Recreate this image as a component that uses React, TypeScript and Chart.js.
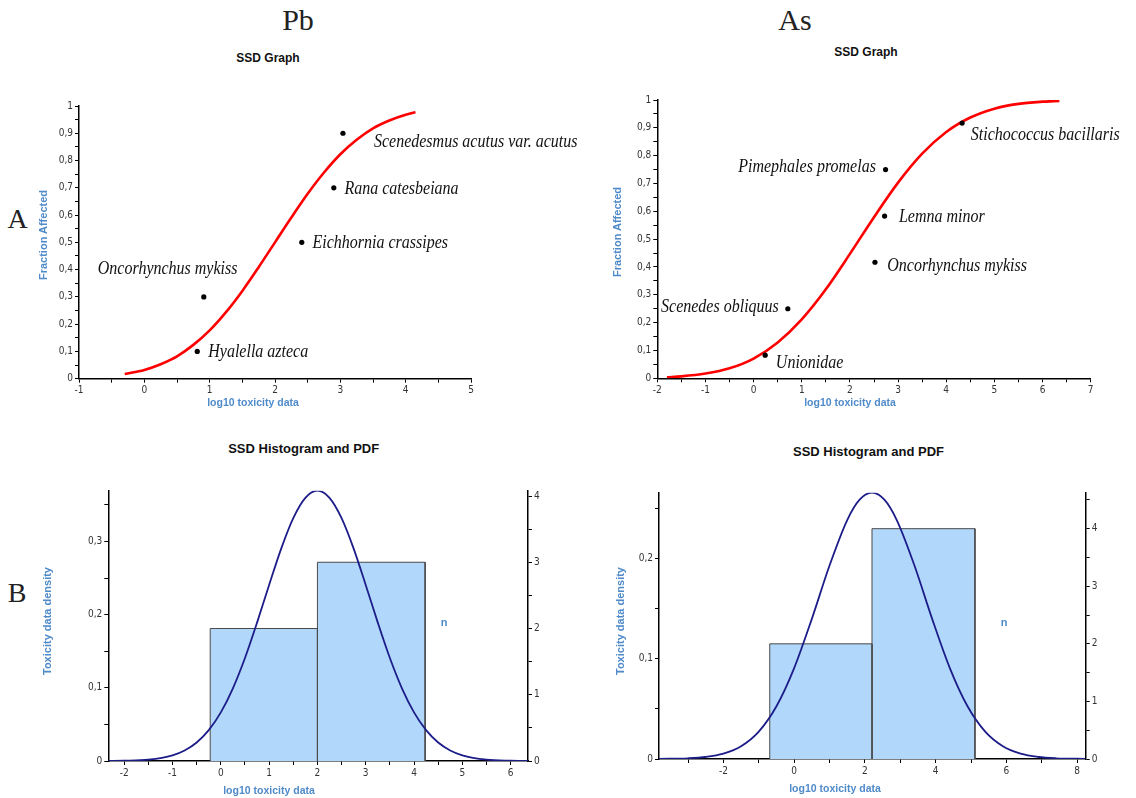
import React, { useEffect, useRef } from 'react';
import { Chart, registerables } from 'chart.js';

Chart.register(...registerables);

// ---------------- Data ----------------
// Pb – SSD graph (species sensitivity)
const pbSpecies = ['Hyalella azteca', 'Oncorhynchus mykiss', 'Eichhornia crassipes', 'Rana catesbeiana', 'Scenedesmus acutus var. acutus'];
const pbLogTox = [0.81, 0.91, 2.41, 2.9, 3.04];
const pbFraction = [0.1, 0.3, 0.5, 0.7, 0.9];
const pbCdfX = [-0.3, 0, 0.25, 0.5, 0.75, 1, 1.25, 1.5, 1.75, 2, 2.25, 2.5, 2.75, 3, 3.25, 3.5, 3.75, 4, 4.15];
const pbCdfY = [0.017, 0.032, 0.053, 0.082, 0.124, 0.177, 0.244, 0.322, 0.409, 0.5, 0.591, 0.678, 0.756, 0.823, 0.876, 0.918, 0.947, 0.968, 0.977];

// As – SSD graph
const asSpecies = ['Unionidae', 'Scenedes obliquus', 'Oncorhynchus mykiss', 'Lemna minor', 'Pimephales promelas', 'Stichococcus bacillaris'];
const asLogTox = [0.24, 0.71, 2.52, 2.72, 2.74, 4.33];
const asFraction = [0.083, 0.25, 0.417, 0.583, 0.75, 0.917];
const asCdfX = [-1.8, -1.5, -1, -0.5, 0, 0.5, 1, 1.5, 2, 2.5, 3, 3.5, 4, 4.5, 5, 5.5, 6, 6.35];
const asCdfY = [0.004, 0.007, 0.017, 0.036, 0.071, 0.129, 0.212, 0.32, 0.447, 0.579, 0.703, 0.807, 0.885, 0.937, 0.969, 0.986, 0.994, 0.997];

// Pb – histogram and PDF
const pbBinEdges = [-0.22, 2.0, 4.23];
const pbBinCounts = [2, 3];
const pbPdfX = [-2.33, -2, -1.5, -1, -0.75, -0.5, -0.25, 0, 0.25, 0.5, 0.75, 1, 1.25, 1.5, 1.75, 2, 2.25, 2.5, 2.75, 3, 3.25, 3.5, 3.75, 4, 4.25, 4.5, 4.75, 5, 5.5, 6, 6.36];
const pbPdfY = [0.0001, 0.0004, 0.0019, 0.0078, 0.0144, 0.0253, 0.0422, 0.0665, 0.0994, 0.1408, 0.1891, 0.2406, 0.2903, 0.3319, 0.3596, 0.3694, 0.3596, 0.3319, 0.2903, 0.2406, 0.1891, 0.1408, 0.0994, 0.0665, 0.0422, 0.0253, 0.0144, 0.0078, 0.0019, 0.0004, 0.0001];

// As – histogram and PDF
const asBinEdges = [-0.69, 2.2, 5.11];
const asBinCounts = [2, 4];
const asPdfX = [-3.82, -3, -2.5, -2, -1.5, -1, -0.5, 0, 0.5, 1, 1.5, 1.85, 2.2, 2.55, 2.9, 3.4, 3.9, 4.4, 4.9, 5.4, 5.9, 6.4, 6.9, 7.4, 8.24];
const asPdfY = [0.0001, 0.0007, 0.002, 0.0053, 0.0127, 0.0273, 0.0526, 0.0907, 0.1399, 0.1931, 0.2385, 0.2588, 0.2658, 0.2588, 0.2385, 0.1931, 0.1399, 0.0907, 0.0526, 0.0273, 0.0127, 0.0053, 0.002, 0.0007, 0.0001];

// Tick labels
const pbCdfXTicks = [-1, 0, 1, 2, 3, 4, 5];
const asCdfXTicks = [-2, -1, 0, 1, 2, 3, 4, 5, 6, 7];
const fractionTicks = [0, 0.1, 0.2, 0.3, 0.4, 0.5, 0.6, 0.7, 0.8, 0.9, 1];
const pbHistXTicks = [-2, -1, 0, 1, 2, 3, 4, 5, 6];
const asHistXTicks = [-2, 0, 2, 4, 6, 8];
const pbDensityTicks = [0, 0.1, 0.2, 0.3];
const asDensityTicks = [0, 0.1, 0.2];
const countTicks = [0, 1, 2, 3, 4];

// ---------------- Styling ----------------
const BLUE = '#4f8ac9';
const TICK_FONT = "'Liberation Sans Narrow', 'DejaVu Sans Condensed', 'Liberation Sans', Arial, sans-serif";
const SANS = "'Liberation Sans', Arial, sans-serif";
const SERIF = "'Liberation Serif', 'DejaVu Serif', serif";

// label placement relative to each point: [dx, dy, align]
const pbLabelPlacement: [number, number, CanvasTextAlign][] = [
  [11, 1, 'left'],
  [-106, -27.4, 'left'],
  [10.7, 1.3, 'left'],
  [10.6, 1, 'left'],
  [31, 8.6, 'left'],
];
const asLabelPlacement: [number, number, CanvasTextAlign][] = [
  [10.7, 7.7, 'left'],
  [-9, -2, 'right'],
  [12.3, 3.7, 'left'],
  [14.3, 0.7, 'left'],
  [-9.7, -2, 'right'],
  [8.7, 11.7, 'left'],
];

const r6 = (v: number) => Math.round(v * 1e6) / 1e6;
const fmtPlain = (v: number) => String(r6(v));
const fmtComma = (v: number) => String(Math.round(v * 1000) / 1000).replace('.', ',');

function buildTicks(major: number[], min: number, max: number) {
  const s = major[1] - major[0];
  const set = new Set<number>();
  major.forEach((v) =>
    [v - s / 2, v, v + s / 2].forEach((t) => {
      const r = r6(t);
      if (r >= min - 1e-9 && r <= max + 1e-9) set.add(r);
    })
  );
  return Array.from(set).sort((a, b) => a - b);
}

function axis(kind: 'x' | 'y' | 'y2', min: number, max: number, major: number[], fmt: (v: number) => string, size: number) {
  const all = buildTicks(major, min, max);
  const majorSet = new Set(major.map(r6));
  return {
    type: 'linear',
    position: kind === 'x' ? 'bottom' : kind === 'y' ? 'left' : 'right',
    min,
    max,
    border: { display: true, color: '#000', width: 1.5 },
    grid: { display: true, drawOnChartArea: false, drawTicks: true, tickLength: 4, color: '#000', lineWidth: 1 },
    ticks: {
      autoSkip: false,
      maxRotation: 0,
      minRotation: 0,
      padding: 2,
      color: '#333',
      font: { family: TICK_FONT, size: 10 },
      callback: (v: number) => (majorSet.has(r6(v)) ? fmt(v) : ''),
    },
    afterBuildTicks: (s: any) => {
      s.ticks = all.map((v) => ({ value: v }));
    },
    afterFit: (s: any) => {
      if (kind === 'x') s.height = size;
      else s.width = size;
    },
  };
}

function labelPlugin(labels: string[], placement: [number, number, CanvasTextAlign][]) {
  return {
    id: 'speciesLabels',
    afterDatasetsDraw(chart: any) {
      const meta = chart.getDatasetMeta(0);
      const ctx = chart.ctx;
      ctx.save();
      ctx.font = `italic 16px ${SERIF}`;
      ctx.fillStyle = '#111';
      ctx.textBaseline = 'middle';
      meta.data.forEach((pt: any, i: number) => {
        const [dx, dy, align] = placement[i];
        ctx.save();
        ctx.textAlign = align;
        ctx.translate(pt.x + dx, pt.y + dy);
        ctx.scale(1, 1.14);
        ctx.fillText(labels[i], 0, 0);
        ctx.restore();
      });
      ctx.restore();
    },
  };
}

const baseOptions = (padding: any, scales: any) => ({
  responsive: false,
  animation: false,
  events: [],
  layout: { padding },
  plugins: { legend: { display: false }, title: { display: false }, tooltip: { enabled: false } },
  scales,
});

// area = [left, top, right, bottom] spaces around the plot inside the canvas
function cdfConfig(
  xs: number[], fr: number[], cx: number[], cy: number[], labels: string[],
  placement: [number, number, CanvasTextAlign][], xMin: number, xMax: number, xTicks: number[], area: number[]
) {
  const [l, t, r, b] = area;
  return {
    type: 'line',
    data: {
      datasets: [
        {
          label: 'species',
          data: xs.map((x, i) => ({ x, y: fr[i] })),
          showLine: false,
          pointRadius: 2.6,
          pointBackgroundColor: '#000',
          pointBorderWidth: 0,
          borderColor: '#000',
        },
        {
          label: 'fit',
          data: cx.map((x, i) => ({ x, y: cy[i] })),
          borderColor: '#ff0000',
          borderWidth: 2.6,
          pointRadius: 0,
          cubicInterpolationMode: 'monotone',
          fill: false,
        },
      ],
    },
    options: baseOptions({ left: 0, top: t, right: r, bottom: 0 }, {
      x: axis('x', xMin, xMax, xTicks, fmtPlain, b),
      y: axis('y', 0, 1, fractionTicks, fmtComma, l),
    }),
    plugins: [labelPlugin(labels, placement)],
  };
}

function histConfig(
  edges: number[], counts: number[], px: number[], py: number[], xMin: number, xMax: number, xTicks: number[],
  yMax: number, yTicks: number[], y2Max: number, area: number[]
) {
  const [l, t, r, b] = area;
  const bins = counts.map((c, i) => ({
    label: 'bin' + i,
    data: [
      { x: edges[i], y: 0 },
      { x: edges[i], y: c },
      { x: edges[i + 1], y: c },
      { x: edges[i + 1], y: 0 },
    ],
    yAxisID: 'y2',
    fill: 'origin',
    backgroundColor: '#b1d7fa',
    borderColor: '#4a4a4a',
    borderWidth: 1,
    pointRadius: 0,
    tension: 0,
  }));
  return {
    type: 'line',
    data: {
      datasets: [
        {
          label: 'pdf',
          data: px.map((x, i) => ({ x, y: py[i] })),
          yAxisID: 'y',
          borderColor: '#1d1d8a',
          borderWidth: 1.8,
          pointRadius: 0,
          cubicInterpolationMode: 'monotone',
          fill: false,
        },
        ...bins,
      ],
    },
    options: baseOptions({ left: 0, top: t, right: 0, bottom: 0 }, {
      x: axis('x', xMin, xMax, xTicks, fmtPlain, b),
      y: axis('y', 0, yMax, yTicks, fmtComma, l),
      y2: axis('y2', 0, y2Max, countTicks, fmtPlain, r),
    }),
  };
}

type TProps = {
  x: number; y: number; text: string; size: number; bold?: boolean; color?: string; family?: string; rotate?: boolean;
};
function T({ x, y, text, size, bold, color, family, rotate }: TProps) {
  return (
    <div
      style={{
        position: 'absolute',
        left: x,
        top: y,
        transform: `translate(-50%, -50%)${rotate ? ' rotate(-90deg)' : ''}`,
        fontSize: size,
        lineHeight: 1,
        fontWeight: bold ? 700 : 400,
        color: color || '#111',
        fontFamily: family || SANS,
        whiteSpace: 'nowrap',
      }}
    >
      {text}
    </div>
  );
}

const panels = [
  { key: 'pbA', left: 30, top: 80, width: 580, height: 340 },
  { key: 'asA', left: 610, top: 80, width: 526, height: 340 },
  { key: 'pbB', left: 30, top: 470, width: 560, height: 320 },
  { key: 'asB', left: 610, top: 470, width: 526, height: 320 },
];

export default function App() {
  const refs = [useRef<HTMLCanvasElement>(null), useRef<HTMLCanvasElement>(null), useRef<HTMLCanvasElement>(null), useRef<HTMLCanvasElement>(null)];

  useEffect(() => {
    const configs: any[] = [
      cdfConfig(pbLogTox, pbFraction, pbCdfX, pbCdfY, pbSpecies, pbLabelPlacement, -1, 5, pbCdfXTicks,
        [49, 26, 139, 41.3]),
      cdfConfig(asLogTox, asFraction, asCdfX, asCdfY, asSpecies, asLabelPlacement, -2, 7, asCdfXTicks,
        [47.3, 20, 45.3, 41.7]),
      histConfig(pbBinEdges, pbBinCounts, pbPdfX, pbPdfY, -2.33, 6.36, pbHistXTicks, 0.3694, pbDensityTicks, 4.08,
        [78.3, 20.7, 62, 29]),
      histConfig(asBinEdges, asBinCounts, asPdfX, asPdfY, -3.82, 8.24, asHistXTicks, 0.2658, asDensityTicks, 4.625,
        [49, 22.7, 50.3, 31]),
    ];
    const charts = refs.map((r, i) => new Chart(r.current as HTMLCanvasElement, configs[i]));
    return () => charts.forEach((c) => c.destroy());
  }, []);

  return (
    <div style={{ position: 'absolute', left: 0, top: 0, width: 1136, height: 798, background: '#fff', overflow: 'hidden' }}>
      {panels.map((p, i) => (
        <canvas
          key={p.key}
          ref={refs[i]}
          width={p.width}
          height={p.height}
          style={{ position: 'absolute', left: p.left, top: p.top, width: p.width, height: p.height }}
        />
      ))}
      <T x={298} y={20} text="Pb" size={30} family={SERIF} color="#222" />
      <T x={795} y={20} text="As" size={30} family={SERIF} color="#222" />
      <T x={17.5} y={218.5} text="A" size={28} family={SERIF} color="#222" />
      <T x={17} y={593} text="B" size={28} family={SERIF} color="#222" />

      <T x={268} y={58} text="SSD Graph" size={12} bold />
      <T x={866} y={52} text="SSD Graph" size={12} bold />
      <T x={303.7} y={448} text="SSD Histogram and PDF" size={13} bold />
      <T x={868.5} y={451} text="SSD Histogram and PDF" size={13} bold />

      <T x={253} y={401.7} text="log10 toxicity data" size={10.5} bold color={BLUE} />
      <T x={850} y={401.7} text="log10 toxicity data" size={10.5} bold color={BLUE} />
      <T x={269} y={790} text="log10 toxicity data" size={10.5} bold color={BLUE} />
      <T x={835} y={787.7} text="log10 toxicity data" size={10.5} bold color={BLUE} />

      <T x={43} y={234.5} text="Fraction Affected" size={11} bold color={BLUE} rotate />
      <T x={617} y={231.5} text="Fraction Affected" size={11} bold color={BLUE} rotate />
      <T x={47} y={621} text="Toxicity data density" size={11} bold color={BLUE} rotate />
      <T x={620} y={621} text="Toxicity data density" size={11} bold color={BLUE} rotate />

      <T x={444} y={621.7} text="n" size={11} bold color={BLUE} />
      <T x={1004} y={621.7} text="n" size={11} bold color={BLUE} />
    </div>
  );
}
